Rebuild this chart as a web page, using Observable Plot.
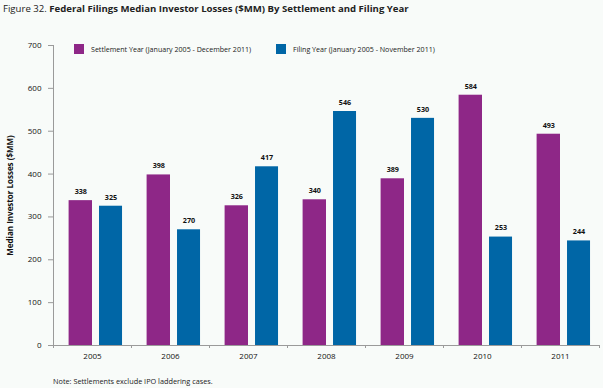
<!DOCTYPE html>
<html>
<head>
<meta charset="utf-8">
<script src="https://cdn.jsdelivr.net/npm/d3@7"></script>
<script src="https://cdn.jsdelivr.net/npm/@observablehq/plot@0.6"></script>
<style>
  body { margin: 0; background: #f8fbf9; }
  #wrap { position: relative; width: 603px; height: 388px; font-family: "Open Sans", "Noto Sans", sans-serif; color: #222; }
  .title { position: absolute; left: 3px; top: 2px; font-size: 9.6px; white-space: nowrap; }
  .title b { font-weight: 700; }
  #chart { position: absolute; left: 0; top: 18px; }
  .legend { position: absolute; top: 44px; font-size: 7.1px; display: flex; align-items: center; white-space: nowrap; }
  .legend span.sw { display: inline-block; width: 10px; height: 10px; margin-right: 7px; }
  .note { position: absolute; left: 53px; top: 376px; font-size: 7.3px; white-space: nowrap; }
</style>
</head>
<body>
<div id="wrap">
  <div class="title">Figure 32. <b>Federal Filings Median Investor Losses ($MM) By Settlement and Filing Year</b></div>
  <div id="chart"></div>
  <div class="legend" style="left:74px"><span class="sw" style="background:#8e2787"></span>Settlement Year (January 2005 - December 2011)</div>
  <div class="legend" style="left:276px"><span class="sw" style="background:#0066a6"></span>Filing Year (January 2005 - November 2011)</div>
  <div class="note">Note: Settlements exclude IPO laddering cases.</div>
</div>
<script>
const years = [2005, 2006, 2007, 2008, 2009, 2010, 2011];
const settlementValues = [338, 398, 326, 340, 389, 584, 493];
const filingValues = [325, 270, 417, 546, 530, 253, 244];
const yTicks = [0, 100, 200, 300, 400, 500, 600, 700];

const purple = "#8e2787";
const blue = "#0066a6";

const settlement = years.map((y, i) => ({year: y, value: settlementValues[i]}));
const filing = years.map((y, i) => ({year: y, value: filingValues[i]}));
const boundaries = years.map(y => y - 0.5).concat([years[years.length - 1] + 0.5]);
const x0 = years[0] - 0.5, x1 = years[years.length - 1] + 0.5;

const chart = Plot.plot({
  width: 603,
  height: 352,
  marginTop: 27,
  marginBottom: 25,
  marginLeft: 53,
  marginRight: 4,
  style: {background: "transparent", fontFamily: "'Open Sans', 'Noto Sans', sans-serif", color: "#222"},
  x: {type: "linear", domain: [x0, x1]},
  y: {domain: [0, 700]},
  marks: [
    Plot.rectY(settlement, {x1: d => d.year - 0.30, x2: d => d.year, y: "value", fill: purple}),
    Plot.rectY(filing, {x1: d => d.year + 0.09, x2: d => d.year + 0.385, y: "value", fill: blue}),
    Plot.text(settlement, {x: d => d.year - 0.15, y: "value", text: d => String(d.value), dy: -9, fontSize: 7.2, fontWeight: "bold", fill: "#111"}),
    Plot.text(filing, {x: d => d.year + 0.2375, y: "value", text: d => String(d.value), dy: -9, fontSize: 7.2, fontWeight: "bold", fill: "#111"}),
    Plot.ruleY([0], {stroke: "#9a9a9a"}),
    Plot.ruleX([x0], {y1: 0, y2: 700, stroke: "#9a9a9a"}),
    Plot.axisX({ticks: boundaries, tickFormat: () => "", tickSize: 3, stroke: "#9a9a9a"}),
    Plot.axisX({ticks: years, tickFormat: d => String(d), tickSize: 0, tickPadding: 8, fontSize: 8, fill: "#111", label: null}),
    Plot.axisY({ticks: yTicks, tickSize: 5, tickPadding: 7, fontSize: 8, stroke: "#9a9a9a", fill: "#111",
      label: "Median Investor Losses ($MM)", labelAnchor: "center", labelArrow: "none", labelOffset: 46})
  ]
});
document.getElementById("chart").appendChild(chart);
chart.querySelectorAll("[aria-label='y-axis label'] text, [aria-label='y-axis label']").forEach(el => {
  el.setAttribute("font-weight", "bold");
  el.setAttribute("font-size", "8");
});
</script>
</body>
</html>
